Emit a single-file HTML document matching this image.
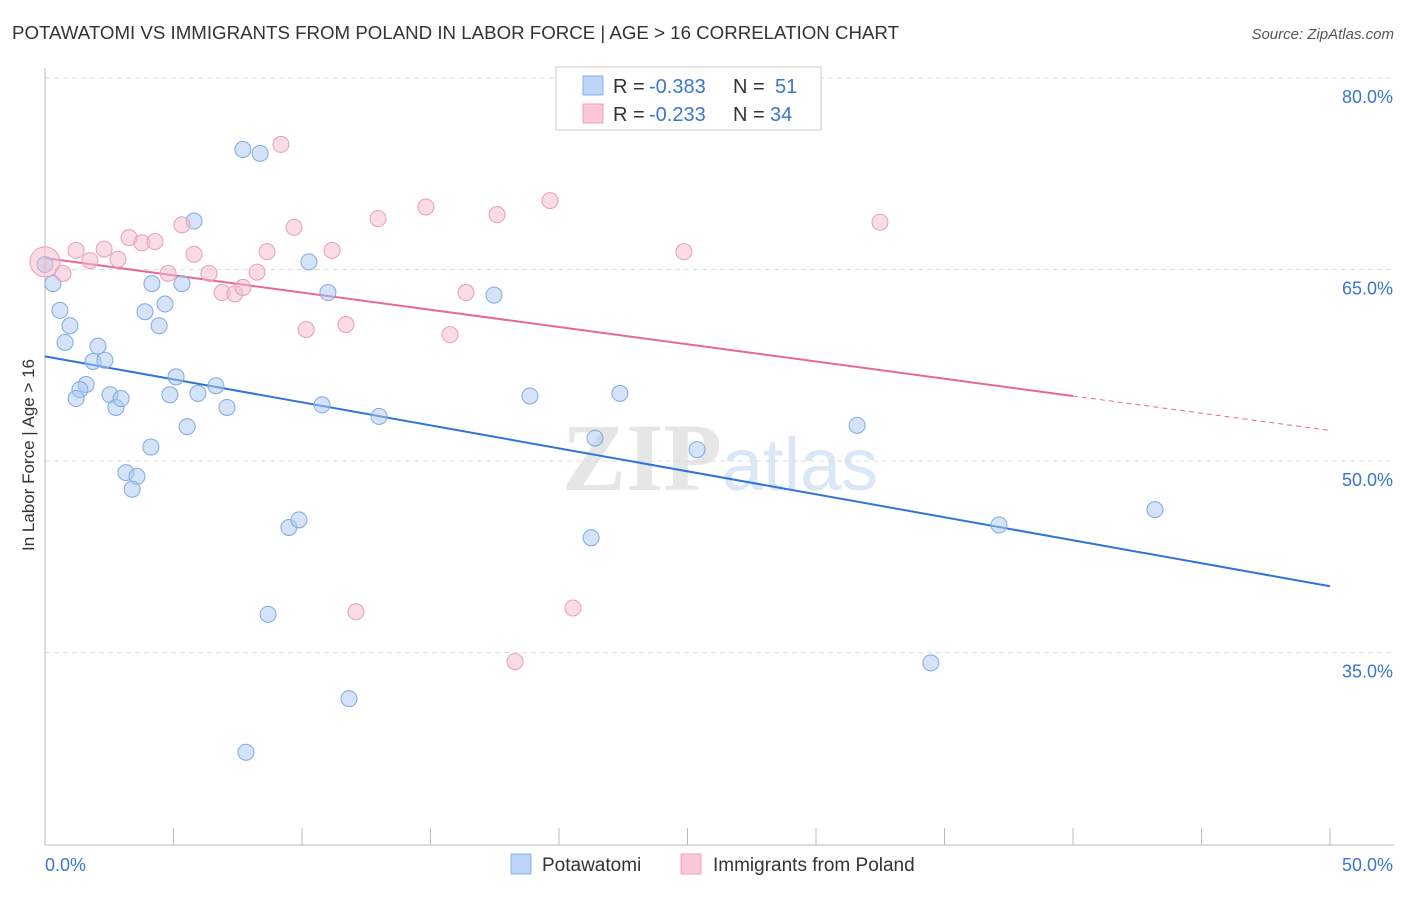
<!DOCTYPE html>
<html><head><meta charset="utf-8"><style>
body{margin:0;background:#fff;font-family:"Liberation Sans",sans-serif;}
svg text{font-family:"Liberation Sans",sans-serif;}
</style></head><body>
<svg id="chart" width="1406" height="892">
<text x="12" y="39" font-size="18" fill="#333" textLength="887" lengthAdjust="spacingAndGlyphs">POTAWATOMI VS IMMIGRANTS FROM POLAND IN LABOR FORCE | AGE &gt; 16 CORRELATION CHART</text>
<text x="1394" y="39" font-size="15" fill="#555" font-style="italic" text-anchor="end">Source: ZipAtlas.com</text>
<text x="34" y="455" font-size="17" fill="#333" text-anchor="middle" transform="rotate(-90 34 455)">In Labor Force | Age &gt; 16</text>
<text x="720" y="490" font-size="96" fill="#e6e6e6" text-anchor="middle"><tspan font-weight="bold" font-family="Liberation Serif">ZIP</tspan><tspan fill="#dbe7f6" font-size="74" font-family="Liberation Sans">atlas</tspan></text>
<g id="grid"></g><g id="trend"></g><g id="points"></g>
<g>
<rect x="556" y="67" width="265" height="63" fill="#fff" stroke="#ccc"/>
<rect x="583" y="76" width="20" height="19" fill="#bcd4f6" stroke="#8ab0e6"/>
<rect x="583" y="104" width="20" height="19" fill="#fbc6d6" stroke="#efa0ba"/>
<text x="613" y="93" font-size="20" fill="#333">R =</text>
<text x="649" y="93" font-size="20" fill="#3a75d0">-0.383</text>
<text x="733" y="93" font-size="20" fill="#333">N =</text>
<text x="775" y="93" font-size="20" fill="#3a75d0">51</text>
<text x="613" y="121" font-size="20" fill="#333">R =</text>
<text x="649" y="121" font-size="20" fill="#3a75d0">-0.233</text>
<text x="733" y="121" font-size="20" fill="#333">N =</text>
<text x="770" y="121" font-size="20" fill="#3a75d0">34</text>
</g>
<g>
<rect x="511" y="854" width="20" height="20" fill="#bcd4f6" stroke="#8ab0e6"/>
<text x="542" y="871" font-size="19" fill="#333">Potawatomi</text>
<rect x="681" y="854" width="20" height="20" fill="#fbc6d6" stroke="#efa0ba"/>
<text x="713" y="871" font-size="19" fill="#333">Immigrants from Poland</text>
</g>
</svg>
<script>
const yTicks=[80,65,50,35];
const xTickLabels=["0.0%","50.0%"];
const blueX=[0,0.31,0.58,0.97,0.78,2.06,1.87,2.33,1.60,1.36,1.21,2.53,2.76,2.96,4.16,3.89,4.67,4.44,5.33,5.80,5.10,4.86,5.95,6.65,7.08,5.53,4.12,3.15,3.58,3.39,7.70,8.37,10.27,11.01,10.78,13.00,9.49,9.88,8.68,11.83,7.82,17.47,18.87,22.37,21.40,25.37,21.25,31.60,37.12,43.19,34.47];
const blueY=[65.4,63.9,61.8,60.6,59.3,59.0,57.8,57.9,56.0,55.6,54.9,55.2,54.2,54.9,63.9,61.7,62.3,60.6,63.9,68.8,56.6,55.2,55.3,55.9,54.2,52.7,51.1,49.1,48.8,47.8,74.4,74.1,65.6,63.2,54.4,53.5,44.8,45.4,38.0,31.4,27.2,63.0,55.1,55.3,51.8,50.9,44.0,52.8,45.0,46.2,34.2];
const pinkX=[0,0.70,1.21,1.75,2.30,2.84,3.27,3.77,4.28,4.79,5.33,5.80,6.38,6.89,7.39,7.70,8.25,8.64,9.18,9.69,10.16,11.17,11.71,12.96,14.82,16.38,15.76,17.59,19.65,12.10,20.54,18.29,24.86,32.49];
const pinkY=[65.6,64.7,66.5,65.7,66.6,65.8,67.5,67.1,67.2,64.7,68.5,66.2,64.7,63.2,63.1,63.6,64.8,66.4,74.8,68.3,60.3,66.5,60.7,69.0,69.9,63.2,59.9,69.3,70.4,38.2,38.5,34.3,66.4,68.7];
const blueTrend=[58.2,40.2];
const pinkTrend=[65.9,52.4];
const NS="http://www.w3.org/2000/svg";
const X=v=>45+v*25.7, Y=v=>78+(80-v)*12.77;
function mk(t,a,p){const e=document.createElementNS(NS,t);for(const k in a)e.setAttribute(k,a[k]);document.getElementById(p).appendChild(e);return e;}
yTicks.forEach(t=>{
 const l=mk('line',{x1:45,x2:1394,y1:Y(t),y2:Y(t),stroke:'#ddd','stroke-dasharray':'5,4'},'grid');
 
 
 const tx=mk('text',{x:1393,y:Y(t)+25,'font-size':18,fill:'#3a75d0','text-anchor':'end'},'grid');tx.textContent=t.toFixed(1)+'%';
 
 
});
mk('line',{x1:45,x2:45,y1:68,y2:845,stroke:'#bbb'},'grid');
mk('line',{x1:45,x2:1394,y1:845,y2:845,stroke:'#bbb'},'grid');
for(let i=0;i<=10;i++){mk('line',{x1:X(i*5),x2:X(i*5),y1:828,y2:845,stroke:'#bbb'},'grid');}
xTickLabels.forEach((s,i)=>{const t=mk('text',{x:i?1393:45,y:871,'font-size':18,fill:'#3a75d0','text-anchor':i?'end':'start'},'grid');t.textContent=s;
 
 });
function ty(tr,x){return tr[0]+(tr[1]-tr[0])*x/50;}
let bl=mk('line',{x1:X(0),y1:Y(ty(blueTrend,0)),x2:X(50),y2:Y(ty(blueTrend,50)),stroke:'#2f74d6','stroke-width':2},'trend');


let pl=mk('line',{x1:X(0),y1:Y(ty(pinkTrend,0)),x2:X(40),y2:Y(ty(pinkTrend,40)),stroke:'#e8679a','stroke-width':2},'trend');


let pd=mk('line',{x1:X(40),y1:Y(ty(pinkTrend,40)),x2:X(50),y2:Y(ty(pinkTrend,50)),stroke:'#e8679a','stroke-width':1,'stroke-dasharray':'5,4'},'trend');


blueX.forEach((v,i)=>{const c=mk('circle',{cx:X(v),cy:Y(blueY[i]),r:8,fill:'rgba(170,200,240,0.5)',stroke:'#7fa9e3','stroke-width':1},'points');
 
 });
pinkX.forEach((v,i)=>{const c=mk('circle',{cx:X(v),cy:Y(pinkY[i]),r:i==0?15:8,fill:'rgba(246,185,205,0.5)',stroke:'#eb9cb8','stroke-width':1},'points');
 
 });
</script>
</body></html>
